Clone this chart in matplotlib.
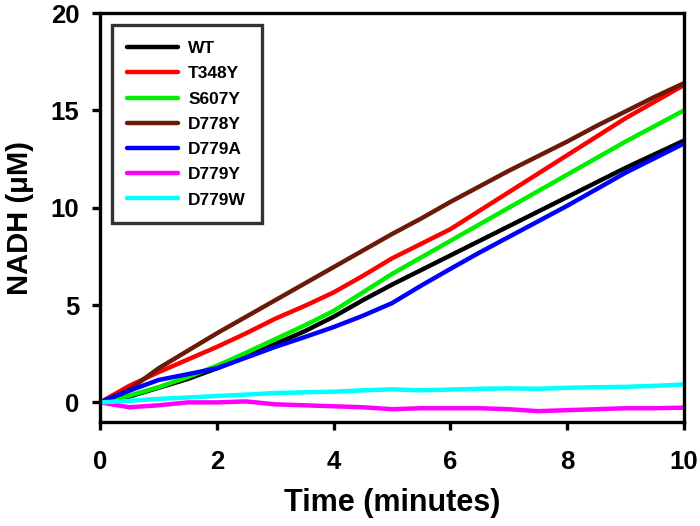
import matplotlib
matplotlib.use("Agg")
import matplotlib.pyplot as plt

time_min = [0, 0.5, 1, 1.5, 2, 2.5, 3, 3.5, 4, 4.5, 5, 5.5, 6, 6.5, 7, 7.5, 8, 8.5, 9, 9.5, 10]

wt    = [0, 0.30, 0.75, 1.20, 1.75, 2.35, 3.00, 3.65, 4.40, 5.25, 6.05, 6.80, 7.55, 8.30, 9.05, 9.80, 10.55, 11.30, 12.05, 12.75, 13.45]
t348y = [0, 0.85, 1.55, 2.20, 2.85, 3.55, 4.30, 4.95, 5.65, 6.50, 7.40, 8.15, 8.90, 9.85, 10.80, 11.75, 12.70, 13.65, 14.60, 15.45, 16.30]
s607y = [0, 0.35, 0.78, 1.30, 1.88, 2.55, 3.25, 3.95, 4.70, 5.65, 6.60, 7.45, 8.30, 9.15, 10.00, 10.85, 11.70, 12.55, 13.40, 14.20, 15.00]
d778y = [0, 0.65, 1.75, 2.65, 3.55, 4.40, 5.25, 6.10, 6.95, 7.80, 8.65, 9.45, 10.30, 11.10, 11.90, 12.65, 13.40, 14.20, 14.95, 15.70, 16.40]
d779a = [0, 0.60, 1.15, 1.45, 1.75, 2.30, 2.85, 3.35, 3.87, 4.45, 5.10, 6.00, 6.86, 7.70, 8.50, 9.30, 10.10, 10.95, 11.80, 12.55, 13.30]
d779y = [0, -0.25, -0.15, 0.00, 0.00, 0.05, -0.10, -0.15, -0.20, -0.25, -0.35, -0.30, -0.30, -0.30, -0.35, -0.45, -0.40, -0.35, -0.30, -0.30, -0.27]
d779w = [0, 0.08, 0.18, 0.25, 0.33, 0.40, 0.48, 0.52, 0.55, 0.62, 0.67, 0.62, 0.66, 0.70, 0.72, 0.70, 0.75, 0.78, 0.80, 0.85, 0.92]

series = [
    ("WT", wt, "#000000"),
    ("T348Y", t348y, "#ff0000"),
    ("S607Y", s607y, "#00ee00"),
    ("D778Y", d778y, "#6b1a08"),
    ("D779A", d779a, "#0000ff"),
    ("D779Y", d779y, "#ff00ff"),
    ("D779W", d779w, "#00ffff"),
]

plt.rcParams['font.family'] = ['Liberation Sans', 'DejaVu Sans']
plt.rcParams['font.weight'] = 'bold'

fig = plt.figure(figsize=(7.0, 5.26), dpi=100)
ax = fig.add_axes([0.143, 0.198, 0.834, 0.777])

for name, vals, col in series:
    ax.plot(time_min, vals, color=col, lw=3.2, label=name, solid_capstyle='round')

ax.set_xlim(0, 10)
ax.set_ylim(-1, 20)
ax.set_xticks([0, 2, 4, 6, 8, 10])
ax.set_yticks([0, 5, 10, 15, 20])
for s in ax.spines.values():
    s.set_linewidth(2.4)
ax.tick_params(axis='both', direction='out', length=6, width=2.4, labelsize=18.5)
ax.tick_params(axis='x', pad=14)
ax.tick_params(axis='y', pad=9)
for lab in ax.get_xticklabels() + ax.get_yticklabels():
    lab.set_fontweight('bold')

ax.set_xlabel("Time (minutes)", fontsize=22, fontweight='bold', labelpad=10)
ax.set_ylabel("NADH (\u03bcM)", fontsize=21, fontweight='bold', labelpad=12)

leg = ax.legend(loc='upper left', bbox_to_anchor=(0.02, 0.97), borderaxespad=0,
                prop={'weight': 'bold', 'size': 12.5}, handlelength=2.9,
                frameon=True, fancybox=False, borderpad=0.9, labelspacing=0.58,
                handletextpad=0.6)
leg.get_frame().set_edgecolor('black')
leg.get_frame().set_linewidth(2.4)
for h in leg.get_lines():
    h.set_linewidth(3.2)

fig.savefig("out.png", dpi=100)
